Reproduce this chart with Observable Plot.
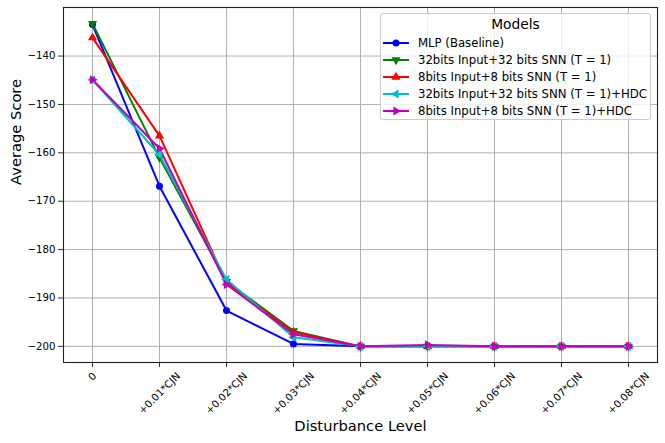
<!DOCTYPE html>
<html>
<head>
<meta charset="utf-8">
<script src="https://cdn.jsdelivr.net/npm/d3@7"></script>
<script src="https://cdn.jsdelivr.net/npm/@observablehq/plot@0.6"></script>
<style>
  html, body { margin: 0; padding: 0; background: #fff; }
  #wrap { position: relative; width: 665px; height: 443px; font-family: "DejaVu Sans", sans-serif; }
  #legend {
    position: absolute; left: 380px; top: 13px; width: 269px; height: 105px;
    border: 1px solid #cccccc; border-radius: 3px; background: rgba(255,255,255,0.8);
    font-family: "DejaVu Sans", sans-serif; color: #000;
  }
  #legend .title { text-align: center; font-size: 13.8px; line-height: 17px; margin-top: 2px; margin-bottom: 2px; }
  #legend .row { display: flex; align-items: center; height: 16.8px; font-size: 11.7px; white-space: nowrap; }
  #legend .row svg { margin-left: 2px; margin-right: 9px; flex: none; }
</style>
</head>
<body>
<div id="wrap"><div id="legend"></div></div>
<script>
// ---- data ----
const levels = ["0", "+0.01*CJN", "+0.02*CJN", "+0.03*CJN", "+0.04*CJN", "+0.05*CJN", "+0.06*CJN", "+0.07*CJN", "+0.08*CJN"];
const seriesNames = [
  "MLP (Baseline)",
  "32bits Input+32 bits SNN (T = 1)",
  "8bits Input+8 bits SNN (T = 1)",
  "32bits Input+32 bits SNN (T = 1)+HDC",
  "8bits Input+8 bits SNN (T = 1)+HDC"
];
const mlp      = [-133.5, -166.9, -192.6, -199.5, -200.0, -200.0, -200.0, -200.0, -200.0];
const snn32    = [-133.3, -161.0, -186.6, -196.8, -200.0, -200.0, -200.0, -200.0, -200.0];
const snn8     = [-136.2, -156.5, -186.9, -197.1, -200.0, -200.0, -200.0, -200.0, -200.0];
const snn32hdc = [-144.9, -160.4, -186.2, -198.1, -200.0, -200.0, -200.0, -200.0, -200.0];
const snn8hdc  = [-144.9, -159.1, -187.2, -197.5, -200.0, -199.7, -200.0, -200.0, -200.0];
const yTicks = [-200, -190, -180, -170, -160, -150, -140];

// ---- styles ----
const colors = ["#0000ff", "#008000", "#ff0000", "#00bfbf", "#bf00bf"];
const symbols = ["circle", "triangle", "triangle", "triangle", "triangle"];
const rotations = [0, 180, 0, -90, 90];
const radii = [3.5, 3.4, 3.4, 3.4, 3.4];
const allSeries = [mlp, snn32, snn8, snn32hdc, snn8hdc];

const rows = [];
allSeries.forEach((vals, s) => vals.forEach((v, i) => rows.push({series: s, level: levels[i], value: v})));

const ext = d3.extent(rows, d => d.value);
const pad = (ext[1] - ext[0]) * 0.05;

// measure tick label lengths for matplotlib-like centered rotated labels
const ctx = document.createElement("canvas").getContext("2d");
ctx.font = "10.2px 'DejaVu Sans'";
const labelDy = l => {
  const L = ctx.measureText(l).width;
  return 9 + (L + 8) * 0.3536;
};

const marks = [
  Plot.gridX(levels, {x: d => d, stroke: "#b0b0b0", strokeOpacity: 1, strokeWidth: 1}),
  Plot.gridY(yTicks, {y: d => d, stroke: "#b0b0b0", strokeOpacity: 1, strokeWidth: 1}),
  Plot.axisX(levels, {x: d => d, tickSize: 5, tickFormat: () => "", stroke: "#333", strokeWidth: 1, label: null}),
  Plot.axisY(yTicks, {y: d => d, tickSize: 5, tickPadding: 3, fontSize: 10.2, stroke: "#333", fill: "#000", strokeWidth: 1, label: null}),
  ...levels.map(l => Plot.text([l], {
    x: d => d, text: d => d, frameAnchor: "bottom", rotate: -45,
    textAnchor: "middle", lineAnchor: "middle", dy: labelDy(l), fontSize: 10.2, fill: "#000"
  })),
  ...allSeries.map((vals, s) => Plot.line(rows.filter(d => d.series === s), {
    x: "level", y: "value", stroke: colors[s], strokeWidth: 2
  })),
  ...allSeries.map((vals, s) => Plot.dot(rows.filter(d => d.series === s), {
    x: "level", y: "value", symbol: symbols[s], rotate: rotations[s],
    r: radii[s], fill: colors[s], stroke: "none"
  })),
  Plot.frame({stroke: "#222", strokeWidth: 1.1}),
  Plot.text(["Disturbance Level"], {frameAnchor: "bottom", text: d => d, dy: 64, fontSize: 14.7, lineAnchor: "middle", fill: "#000"}),
  Plot.text(["Average Score"], {frameAnchor: "left", text: d => d, dx: -47, rotate: -90, fontSize: 14.7, lineAnchor: "middle", fill: "#000"})
];

const chart = Plot.plot({
  width: 665,
  height: 443,
  marginLeft: 63,
  marginRight: 8,
  marginTop: 7,
  marginBottom: 81,
  style: {fontFamily: "DejaVu Sans", background: "#fff", overflow: "visible"},
  x: {type: "point", domain: levels, padding: 0.4, axis: null},
  y: {domain: [ext[0] - pad, ext[1] + pad], axis: null},
  marks
});
document.getElementById("wrap").prepend(chart);

// ---- legend ----
const legend = d3.select("#legend");
legend.append("div").attr("class", "title").text("Models");
seriesNames.forEach((name, s) => {
  const row = legend.append("div").attr("class", "row");
  const svg = row.append("svg").attr("width", 26).attr("height", 12);
  svg.append("line").attr("x1", 0).attr("x2", 26).attr("y1", 6).attr("y2", 6)
    .attr("stroke", colors[s]).attr("stroke-width", 2);
  const r = radii[s];
  const sym = d3.symbol(s === 0 ? d3.symbolCircle : d3.symbolTriangle, Math.PI * r * r);
  svg.append("path").attr("d", sym()).attr("fill", colors[s])
    .attr("transform", `translate(13,6) rotate(${rotations[s]})`);
  row.append("span").text(name);
});
</script>
</body>
</html>
